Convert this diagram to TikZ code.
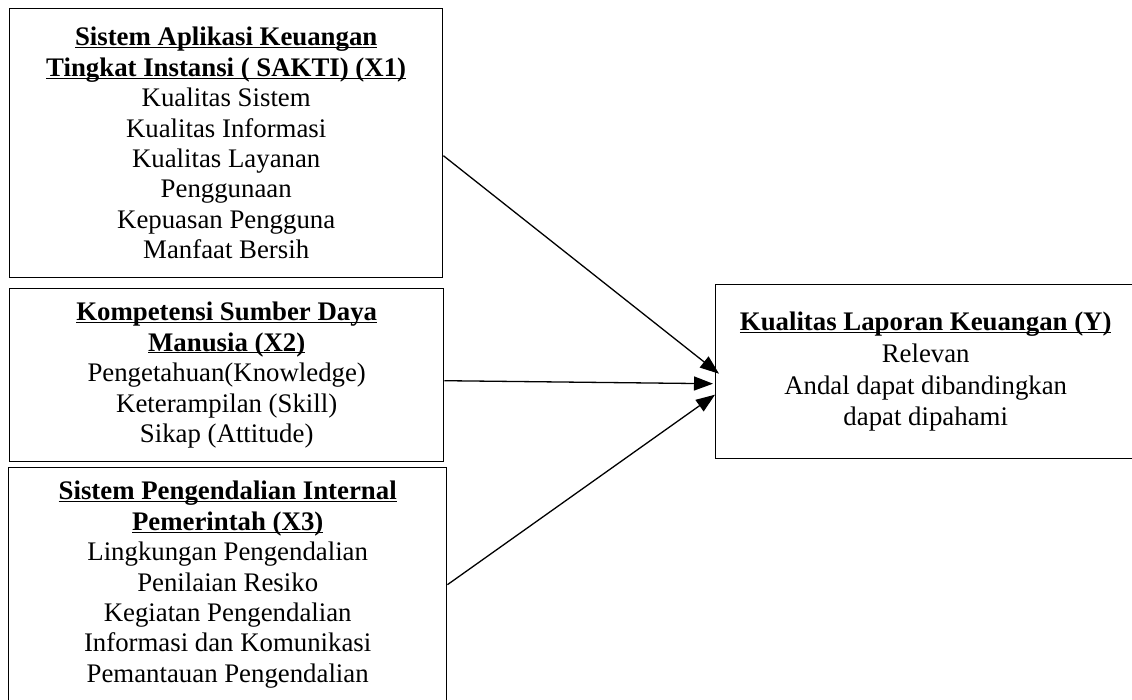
\documentclass[tikz,border=0pt]{standalone}
\usepackage{fontspec}
\setmainfont{Liberation Serif}
\usetikzlibrary{arrows.meta}
\newcommand\myul[1]{\underline{\smash{#1}}\vphantom{#1}}
\tikzset{
  box/.style={draw, line width=1.4pt, anchor=north west, inner sep=0pt, align=center,
    font=\fontsize{26.8}{30.4}\selectfont},
  arr/.style={line width=1.3pt, -{Triangle[length=19pt,width=14pt]}}
}
\begin{document}
\begin{tikzpicture}[x=1pt,y=-1pt]
\useasboundingbox (0,0) rectangle (1132,699);
\node[box, minimum width=433pt, minimum height=269pt] (x1) at (9,8)
  {\textbf{\myul{Sistem Aplikasi Keuangan}}\\
   \textbf{\myul{Tingkat Instansi ( SAKTI) (X1)}}\\
   Kualitas Sistem\\ Kualitas Informasi\\ Kualitas Layanan\\ Penggunaan\\
   Kepuasan Pengguna\\ Manfaat Bersih};
\node[box, minimum width=434pt, minimum height=173pt] (x2) at (9,288)
  {\textbf{\myul{Kompetensi Sumber Daya}}\\
   \textbf{\myul{Manusia (X2)}}\\
   Pengetahuan(Knowledge)\\ Keterampilan (Skill)\\ Sikap (Attitude)};
\node[box, minimum width=438pt, minimum height=234pt] (x3) at (8,467)
  {\textbf{\myul{Sistem Pengendalian Internal}}\\
   \textbf{\myul{Pemerintah (X3)}}\\
   Lingkungan Pengendalian\\ Penilaian Resiko\\ Kegiatan Pengendalian\\
   Informasi dan Komunikasi\\ Pemantauan Pengendalian};
\node[box, minimum width=420pt, minimum height=174pt,
  font=\fontsize{26.8}{31.7}\selectfont] (y) at (715,284)
  {\textbf{\myul{Kualitas Laporan Keuangan (Y)}}\\
   Relevan\\ Andal dapat dibandingkan\\ dapat dipahami};
\draw[arr] ([yshift=-12.5pt]x1.east) -- ([xshift=4pt,yshift=-2pt]y.west);
\draw[arr] ([yshift=-5.5pt]x2.east) -- ([xshift=-2pt,yshift=-12pt]y.west);
\draw[arr] (x3.east) -- ([yshift=-23pt]y.west);
\end{tikzpicture}
\end{document}
